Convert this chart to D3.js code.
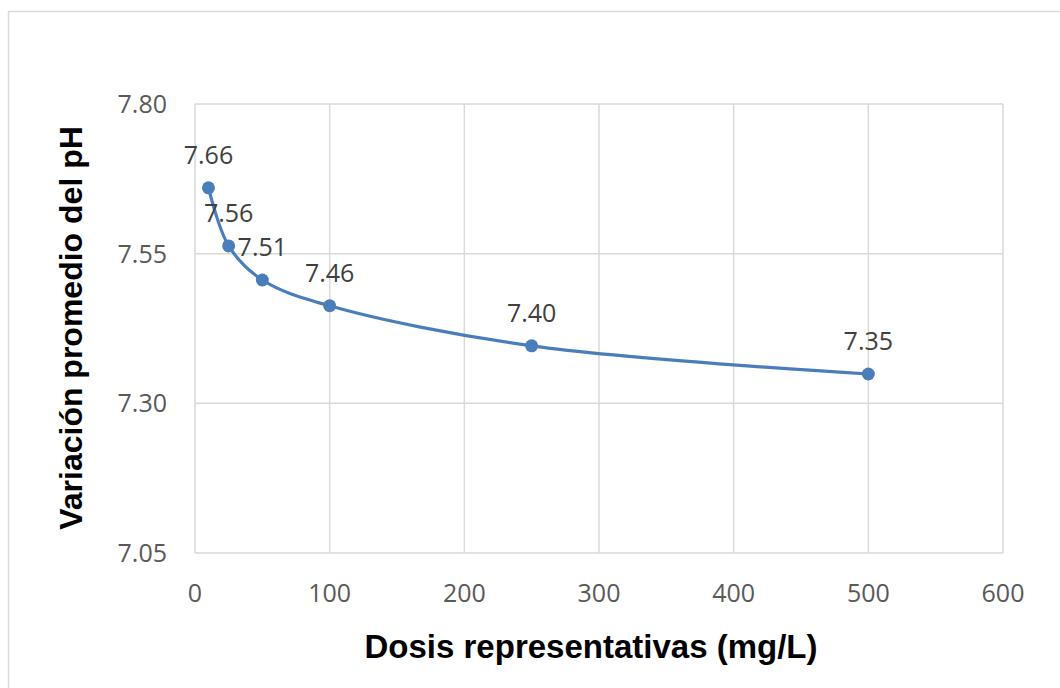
<!DOCTYPE html>
<html>
<head>
<meta charset="utf-8">
<script src="https://cdn.jsdelivr.net/npm/d3@7"></script>
<style>
  html, body { margin: 0; padding: 0; background: #fff; }
  svg { display: block; }
</style>
</head>
<body>
<div class="chart"></div>
<script>
// data
const doses = [10, 25, 50, 100, 250, 500];
const phValues = [7.66, 7.563, 7.506, 7.463, 7.396, 7.349];
const xTicks = [0, 100, 200, 300, 400, 500, 600];
const yTicks = [7.05, 7.30, 7.55, 7.80];
const xTitle = 'Dosis representativas (mg/L)';
const yTitle = 'Variación promedio del pH';

const w = 1060;
const h = 688;
const plot = { left: 195, right: 1003, top: 104, bottom: 553 };

const x = d3.scaleLinear().domain([0, 600]).range([plot.left, plot.right]);
const y = d3.scaleLinear().domain([7.05, 7.80]).range([plot.bottom, plot.top]);

const svg = d3.select('.chart').append('svg')
  .attr('width', w)
  .attr('height', h);

// chart area border
svg.append('rect')
  .attr('x', 8.5)
  .attr('y', 11.5)
  .attr('width', 1200)
  .attr('height', 800)
  .attr('fill', '#fff')
  .attr('stroke', '#d9d9d9')
  .attr('stroke-width', 1.5);

// gridlines
svg.selectAll('.vgrid')
  .data(xTicks)
  .enter().append('line')
  .attr('x1', d => x(d))
  .attr('x2', d => x(d))
  .attr('y1', plot.top)
  .attr('y2', plot.bottom)
  .attr('stroke', '#d9d9d9')
  .attr('stroke-width', 1.5);

svg.selectAll('.hgrid')
  .data(yTicks)
  .enter().append('line')
  .attr('x1', plot.left)
  .attr('x2', plot.right)
  .attr('y1', d => y(d))
  .attr('y2', d => y(d))
  .attr('stroke', '#d9d9d9')
  .attr('stroke-width', 1.5);

// tick labels
svg.selectAll('.xlab')
  .data(xTicks)
  .enter().append('text')
  .attr('x', d => x(d))
  .attr('y', plot.bottom + 49)
  .attr('text-anchor', 'middle')
  .style('font-family', '"Open Sans", sans-serif')
  .style('font-size', '25px')
  .style('fill', '#595959')
  .text(d => d);

svg.selectAll('.ylab')
  .data(yTicks)
  .enter().append('text')
  .attr('x', 167)
  .attr('y', d => y(d) + 9)
  .attr('text-anchor', 'end')
  .style('font-family', '"Open Sans", sans-serif')
  .style('font-size', '25px')
  .style('fill', '#595959')
  .text(d => d.toFixed(2));

// axis titles
svg.append('text')
  .attr('x', 591)
  .attr('y', 658)
  .attr('text-anchor', 'middle')
  .style('font-family', '"Liberation Sans", Arial, sans-serif')
  .style('font-weight', 'bold')
  .style('font-size', '33px')
  .style('fill', '#000')
  .text(xTitle);

svg.append('text')
  .attr('transform', 'translate(82, 328) rotate(-90)')
  .attr('text-anchor', 'middle')
  .style('font-family', '"Liberation Sans", Arial, sans-serif')
  .style('font-weight', 'bold')
  .style('font-size', '32px')
  .style('fill', '#000')
  .text(yTitle);

// smooth line
const points = doses.map((d, i) => [d, phValues[i]]);

const line = d3.line()
  .x(d => x(d[0]))
  .y(d => y(d[1]))
  .curve(d3.curveCatmullRom);

svg.append('path')
  .attr('d', line(points))
  .style('fill', 'none')
  .style('stroke', '#4a7ebb')
  .style('stroke-width', 3.2);

// markers
svg.selectAll('.dot')
  .data(points)
  .enter().append('circle')
  .attr('cx', d => x(d[0]))
  .attr('cy', d => y(d[1]))
  .attr('r', 6.5)
  .attr('fill', '#4a7ebb');

// data labels
svg.selectAll('.dlab')
  .data(points)
  .enter().append('text')
  .attr('x', d => x(d[0]))
  .attr('y', d => y(d[1]) - 24)
  .attr('text-anchor', 'middle')
  .style('font-family', '"Open Sans", sans-serif')
  .style('font-size', '25px')
  .style('fill', '#404040')
  .text(d => d[1].toFixed(2));
</script>
</body>
</html>
